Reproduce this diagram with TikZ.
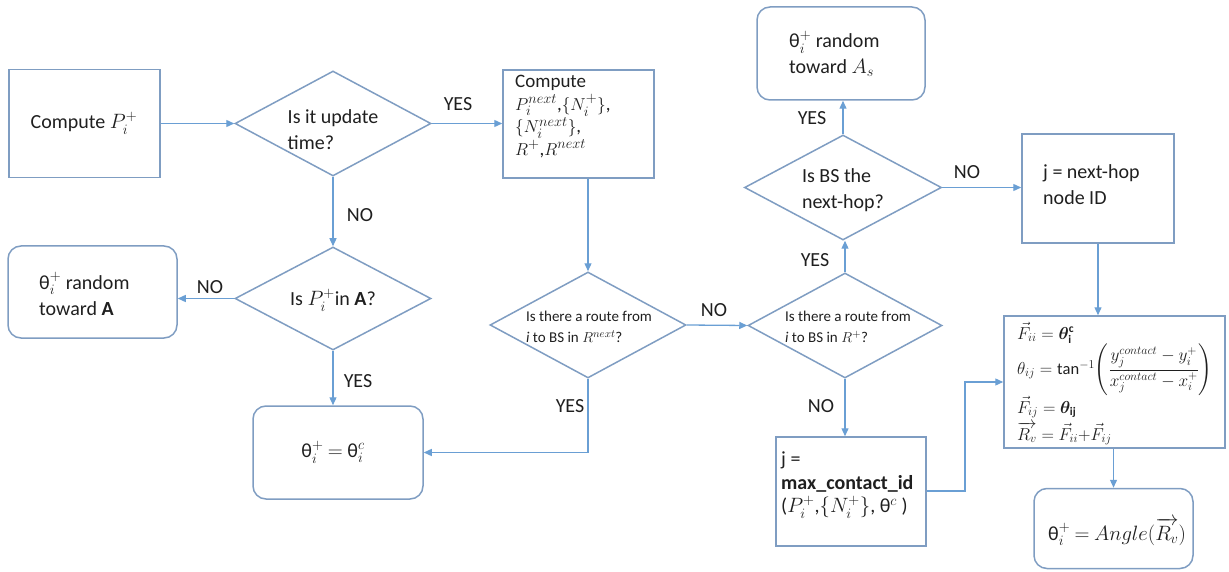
\documentclass[tikz,border=0pt]{standalone}
\usepackage{amsmath,bm}
\usepackage{fontspec}
\setmainfont{Carlito}
\usetikzlibrary{shapes.geometric,arrows.meta}
\definecolor{edgeblue}{HTML}{6A9FD4}
\definecolor{boxblue}{HTML}{7F9DC2}
\definecolor{ink}{HTML}{1F1F1F}
\newcommand{\tightlines}{\lineskiplimit=-20pt\lineskip=0pt\relax}
\tikzset{
  box/.style={draw=boxblue, line width=1.5pt, inner sep=0pt},
  rbox/.style={box, rounded corners=13pt},
  dia/.style={draw=boxblue, line width=1.5pt, shape=diamond, inner sep=0pt},
  txt/.style={text=ink, inner sep=0pt, align=left, font=\fontsize{20}{26}\selectfont},
  stxt/.style={text=ink, inner sep=0pt, align=left, font=\fontsize{15}{21}\selectfont},
  ftxt/.style={text=ink, inner sep=0pt, font=\fontsize{16.5}{18}\selectfont},
  lbl/.style={text=ink, inner sep=0pt, font=\fontsize{20}{24}\selectfont},
  arr/.style={draw=edgeblue, line width=1.3pt, -{Triangle[length=8pt,width=7pt]}}
}
\begin{document}
\begin{tikzpicture}[x=1pt,y=-1pt]
\useasboundingbox (0,0) rectangle (1229,572);
% boxes
\node[box, minimum width=151pt, minimum height=108pt] (b1) at (84.5,123.5) {};
\node[txt] (b1t) at (84,123) {Compute $P_i^+$};
\node[dia, minimum width=196pt, minimum height=105pt] (d1) at (333,123.5) {};
\node[txt] (d1t) at (333,130) {Is it update\\time?};
\node[box, minimum width=151pt, minimum height=108pt] (b2) at (578.5,124) {};
\node[txt, anchor=north west, font=\fontsize{19}{22.5}\selectfont\tightlines] (b2t) at (515,75) {Compute\\$P_i^{next}$,$\{N_i^+\}$,\\$\{N_i^{next}\}$,\\$R^+$,$R^{next}$};
\node[dia, minimum width=196pt, minimum height=103pt] (d2) at (333,298.5) {};
\node[txt] (d2t) at (333,300) {Is $P_i^+$in \textbf{A}?};
\node[rbox, minimum width=169pt, minimum height=92pt] (rA) at (92.5,292) {};
\node[txt, anchor=west] (rAt) at (39,294) {θ$_i^+$ random\\toward \textbf{A}};
\node[rbox, minimum width=170pt, minimum height=93pt] (rc) at (338,452.5) {};
\node[txt] (rct) at (333,452) {θ$_i^+$ $=$ θ$_i^c$};
\node[dia, minimum width=196pt, minimum height=106pt] (d3) at (588,325) {};
\node[stxt] (d3t) at (589,327) {Is there a route from\\\textit{i} to BS in $R^{next}$?};
\node[dia, minimum width=194pt, minimum height=105pt] (d4) at (845,325.5) {};
\node[stxt] (d4t) at (848,327) {Is there a route from\\\textit{i} to BS in $R^+$?};
\node[dia, minimum width=197pt, minimum height=105pt] (d5) at (843,187.5) {};
\node[txt] (d5t) at (843,190) {Is BS the\\next-hop?};
\node[rbox, minimum width=168pt, minimum height=93pt] (rAs) at (841,53.5) {};
\node[txt, anchor=west] (rAst) at (789,54) {θ$_i^+$ random\\toward $A_s$};
\node[box, minimum width=152pt, minimum height=109pt] (bj) at (1098,188.5) {};
\node[txt, anchor=west] (bjt) at (1043,185) {j = next-hop\\node ID};
\node[box, minimum width=221pt, minimum height=132pt] (fb) at (1114.5,382) {};
\node[ftxt, anchor=base west] (f1) at (1017,339) {$\vec{F}_{ii} = \bm{\theta}_{\mathbf{i}}^{\mathbf{c}}$};
\node[ftxt, anchor=west] (f2) at (1017,370) {$\theta_{ij} = \tan^{-1}\!\left(\dfrac{y_j^{contact}-y_i^+}{x_j^{contact}-x_i^+}\right)$};
\node[ftxt, anchor=base west] (f3) at (1017,413) {$\vec{F}_{ij} = \bm{\theta}_{\mathbf{ij}}$};
\node[ftxt, anchor=base west] (f4) at (1017,440) {$\smash{\overrightarrow{R_v}} = \smash{\vec{F}_{ii}}{+}\smash{\vec{F}_{ij}}$};
\node[box, minimum width=150pt, minimum height=109pt] (bm) at (851,491.5) {};
\node[txt, anchor=north west, font=\fontsize{20}{23.5}\selectfont\tightlines] (bmt) at (781,452) {j =\\\textbf{max\_contact\_id}\\($P_i^+$,$\{N_i^+\}$, θ$^c$ )};
\node[rbox, minimum width=159pt, minimum height=80pt] (fin) at (1113.5,528.5) {};
\node[txt] (fint) at (1117,532) {θ$_i^+$ $=$ $Angle(\overrightarrow{R_v})$};
% connectors
\draw[arr] (b1.east) -- (d1.west);
\draw[arr] (d1.east) -- (b2.west |- d1.east);
\draw[arr] (d1.south) -- (d2.north);
\draw[arr] (d2.west) -- (d2.west -| rA.east);
\draw[arr] (d2.south) -- (d2.south |- rc.north);
\draw[arr] (d3.north |- b2.south) -- (d3.north);
\draw[arr] (d3.south) |- (rc.east);
\draw[arr] (d3.east) -- (d4.west);
\draw[arr] (d4.north) -- (d4.north |- d5.south);
\draw[arr] (d5.north) -- (d5.north |- rAs.south);
\draw[arr] (d5.east) -- (d5.east -| bj.west);
\draw[arr] (bj.south) -- (bj.south |- fb.north);
\draw[arr] (d4.south) -- (d4.south |- bm.north);
\coordinate (bend) at (965,491);
\draw[arr] (bm.east |- bend) -- (bend) |- (fb.west);
\draw[arr] (fb.south -| fin.north) -- (fin.north);
% labels
\node[lbl] (l1) at (458,104) {YES};
\node[lbl] (l2) at (360,215) {NO};
\node[lbl] (l3) at (210,287) {NO};
\node[lbl] (l4) at (358,381) {YES};
\node[lbl] (l5) at (570,406) {YES};
\node[lbl] (l6) at (714,310) {NO};
\node[lbl] (l7) at (815,260) {YES};
\node[lbl] (l8) at (812,118) {YES};
\node[lbl] (l9) at (967,172) {NO};
\node[lbl] (l10) at (821,406) {NO};
\end{tikzpicture}
\end{document}
